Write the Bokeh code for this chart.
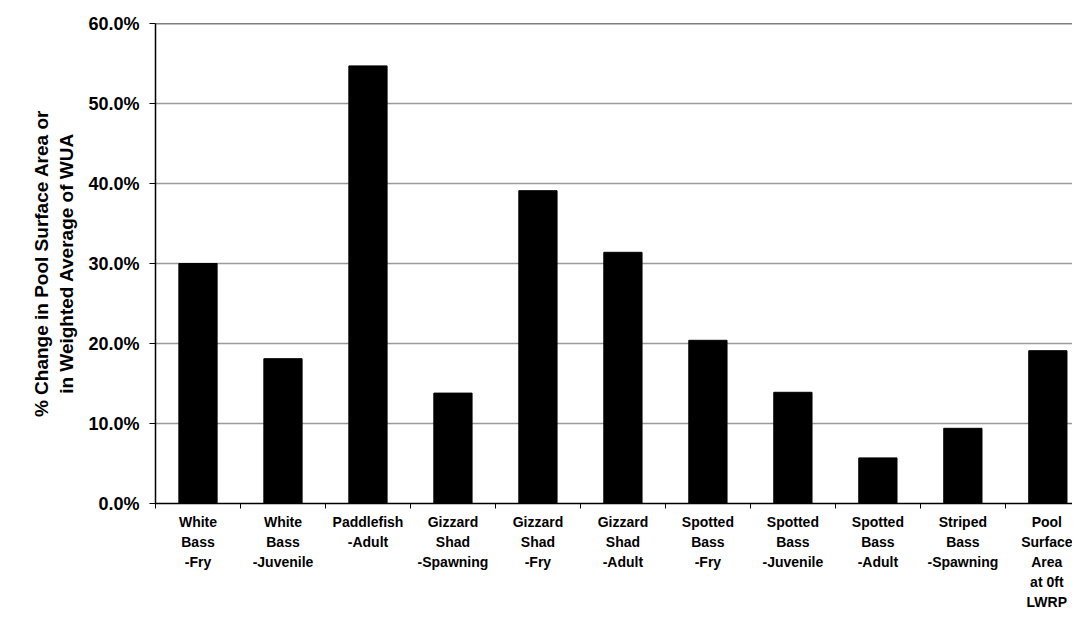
from bokeh.plotting import figure
from bokeh.models import FixedTicker, NumeralTickFormatter, Span, ColumnDataSource
from bokeh.embed import file_html
from bokeh.resources import INLINE

categories = [
    "White\nBass\n-Fry",
    "White\nBass\n-Juvenile",
    "Paddlefish\n-Adult",
    "Gizzard\nShad\n-Spawning",
    "Gizzard\nShad\n-Fry",
    "Gizzard\nShad\n-Adult",
    "Spotted\nBass\n-Fry",
    "Spotted\nBass\n-Juvenile",
    "Spotted\nBass\n-Adult",
    "Striped\nBass\n-Spawning",
    "Pool\nSurface\nArea\nat 0ft\nLWRP",
]
values = [0.300, 0.181, 0.547, 0.138, 0.391, 0.314, 0.204, 0.139, 0.057, 0.094, 0.191]
y_ticks = [0.0, 0.1, 0.2, 0.3, 0.4, 0.5, 0.6]

positions = list(range(len(categories)))
boundaries = [i - 0.5 for i in range(len(categories) + 1)]

FONT = "Liberation Sans"

p = figure(width=1072, height=612, output_backend="svg", toolbar_location=None,
           x_range=(-0.5, 10.29), y_range=(0, 0.6),
           min_border_left=155, min_border_top=23, min_border_bottom=107, min_border_right=0)

src = ColumnDataSource(dict(x=positions, top=values))
p.vbar(x="x", top="top", width=0.45, bottom=0, source=src, fill_color="black", line_color="black")

p.outline_line_color = None
p.background_fill_color = "white"
p.border_fill_color = "white"

# grid
p.xgrid.grid_line_color = None
p.ygrid.ticker = FixedTicker(ticks=y_ticks)
p.ygrid.grid_line_color = "#9a9a9a"
p.ygrid.grid_line_width = 1.5

top_line = Span(location=0.6, dimension="width", line_color="black", line_width=1.5)
p.add_layout(top_line)

# y axis
p.yaxis.ticker = FixedTicker(ticks=y_ticks)
p.yaxis.formatter = NumeralTickFormatter(format="0.0%")
p.yaxis.axis_line_color = "black"
p.yaxis.axis_line_width = 1.5
p.yaxis.major_tick_out = 6
p.yaxis.major_tick_in = 0
p.yaxis.minor_tick_line_color = None
p.yaxis.major_label_text_font = FONT
p.yaxis.major_label_text_font_style = "bold"
p.yaxis.major_label_text_font_size = "18px"
p.yaxis.major_label_text_color = "black"
p.yaxis.major_label_standoff = 10
p.yaxis.axis_label = "% Change in Pool Surface Area or\nin Weighted Average of WUA"
p.yaxis.axis_label_text_font = FONT
p.yaxis.axis_label_text_font_style = "bold"
p.yaxis.axis_label_text_font_size = "19px"
p.yaxis.axis_label_text_color = "black"
p.yaxis.axis_label_standoff = 8

# x axis
p.xaxis.ticker = FixedTicker(ticks=positions, minor_ticks=boundaries)
p.xaxis.major_label_overrides = {i: c for i, c in zip(positions, categories)}
p.xaxis.axis_line_color = "black"
p.xaxis.axis_line_width = 1.5
p.xaxis.major_tick_line_color = None
p.xaxis.minor_tick_line_color = "black"
p.xaxis.minor_tick_out = 5
p.xaxis.minor_tick_in = 0
p.xaxis.major_label_text_font = FONT
p.xaxis.major_label_text_font_style = "bold"
p.xaxis.major_label_text_font_size = "14px"
p.xaxis.major_label_text_color = "black"
p.xaxis.major_label_text_line_height = 1.25
p.xaxis.major_label_standoff = 4

open("out.html", "w").write(file_html(p, INLINE))
